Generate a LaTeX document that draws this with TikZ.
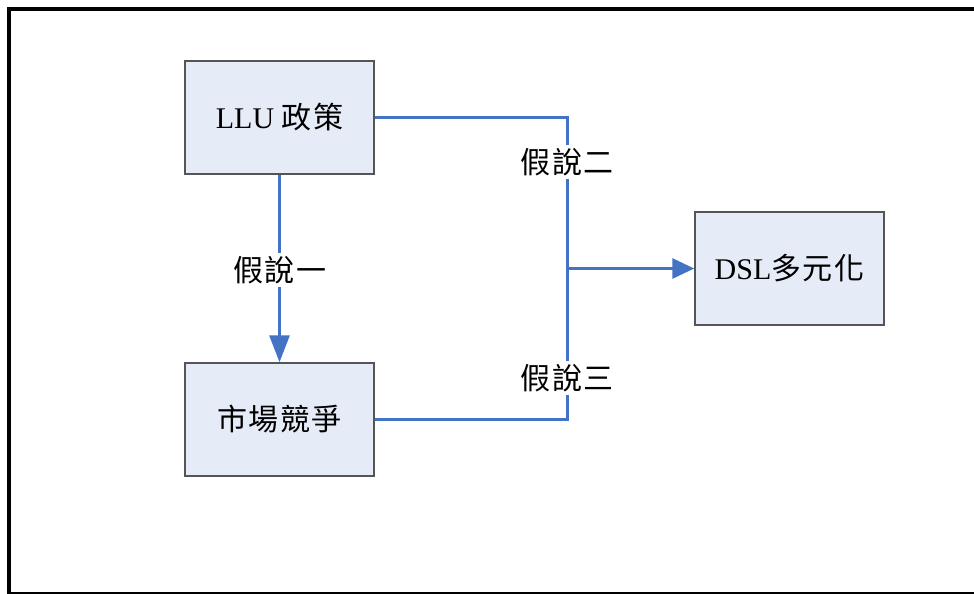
\documentclass[tikz,border=0pt]{standalone}
\usepackage{fontspec}
\setmainfont{Liberation Serif}
\newfontfamily\cjk[LetterSpace=5]{Noto Sans CJK TC}
\usetikzlibrary{arrows.meta}
\definecolor{boxfill}{RGB}{230,236,247}
\definecolor{boxline}{RGB}{85,85,85}
\definecolor{conn}{RGB}{68,114,196}
\begin{document}
\begin{tikzpicture}[x=1pt,y=-1pt,
  box/.style={draw=boxline,line width=1.5pt,fill=boxfill,minimum width=189pt,minimum height=113pt,inner sep=0pt,font=\fontsize{30}{34}\selectfont},
  conline/.style={draw=conn,line width=3pt},
  lbl/.style={fill=white,inner sep=3pt,font=\fontsize{30}{34}\selectfont\cjk}
]
\useasboundingbox (0,0) rectangle (974,594);
% frame
\draw[line width=4.5pt] (974,9) -- (9,9) -- (9,594);
\draw[line width=1.5pt] (9,593) -- (974,593);
% boxes
\node[box] (llu) at (279.5,117.5) {LLU {\cjk 政策}};
\node[box] (mkt) at (279.5,419.5) {\cjk 市場競爭};
\node[box] (dsl) at (789.5,268.5) {DSL{\cjk 多元化}};
\coordinate (j) at (567,268.5);
% connectors
\draw[conline,-{Triangle[width=20pt,length=27pt]}] (llu) -- (mkt);
\draw[conline] (llu.east) -| (j);
\draw[conline] (mkt.east) -| (j);
\draw[conline,-{Triangle[width=20pt,length=22pt]}] (j) -- (dsl.west);
% labels
\node[lbl] (h1) at (279.5,270) {假說一};
\node[lbl] (h2) at (567,162) {假說二};
\node[lbl] (h3) at (567,378) {假說三};
\end{tikzpicture}
\end{document}
